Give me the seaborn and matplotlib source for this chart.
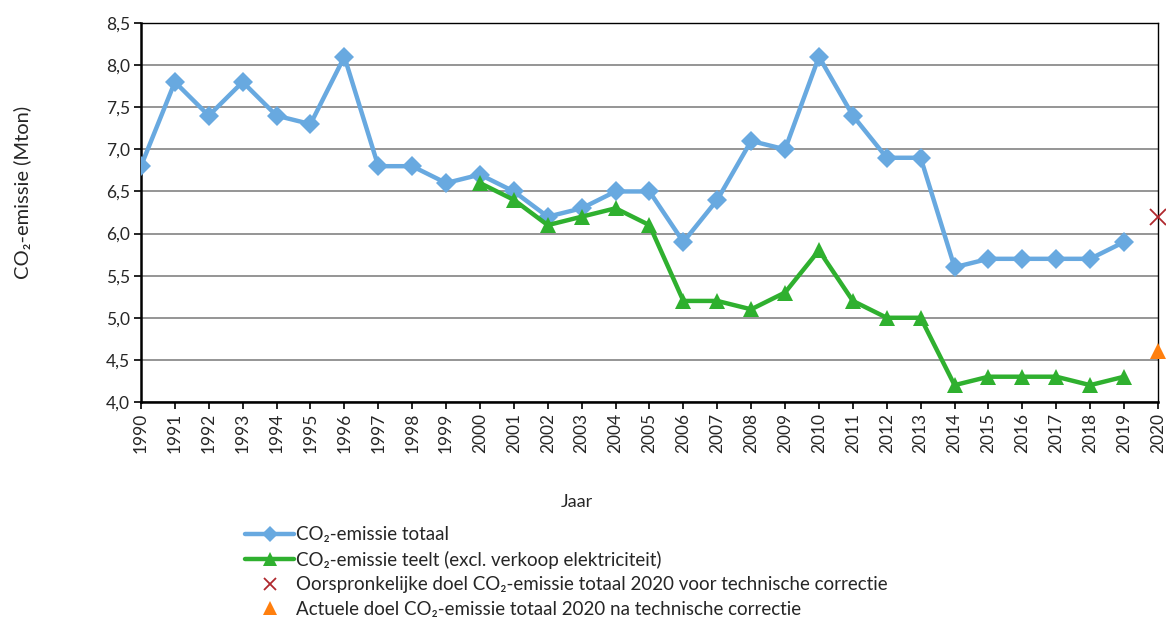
import numpy as np
import pandas as pd
import seaborn as sns
import matplotlib.pyplot as plt
from matplotlib.ticker import FuncFormatter, MultipleLocator

# Data
jaren_totaal = list(range(1990, 2020))
co2_totaal = [6.8, 7.8, 7.4, 7.8, 7.4, 7.3, 8.1, 6.8, 6.8, 6.6,
              6.7, 6.5, 6.2, 6.3, 6.5, 6.5, 5.9, 6.4, 7.1, 7.0,
              8.1, 7.4, 6.9, 6.9, 5.6, 5.7, 5.7, 5.7, 5.7, 5.9]
jaren_teelt = list(range(2000, 2020))
co2_teelt = [6.6, 6.4, 6.1, 6.2, 6.3, 6.1, 5.2, 5.2, 5.1, 5.3,
             5.8, 5.2, 5.0, 5.0, 4.2, 4.3, 4.3, 4.3, 4.2, 4.3]
doel_jaar = 2020
doel_oorspronkelijk = 6.2
doel_actueel = 4.6

lbl_totaal = "CO\u2082-emissie totaal"
lbl_teelt = "CO\u2082-emissie teelt (excl. verkoop elektriciteit)"
lbl_oorspr = "Oorspronkelijke doel CO\u2082-emissie totaal 2020 voor technische correctie"
lbl_actueel = "Actuele doel CO\u2082-emissie totaal 2020 na technische correctie"

sns.set_style("white")
plt.rcParams['font.family'] = ['Lato', 'DejaVu Sans']

df_totaal = pd.DataFrame({"jaar": jaren_totaal, "co2": co2_totaal})
df_teelt = pd.DataFrame({"jaar": jaren_teelt, "co2": co2_teelt})

fig = plt.figure(figsize=(11.66, 6.19), dpi=100)
ax = fig.add_axes([0.1209, 0.3506, 0.8722, 0.6122])

sns.lineplot(data=df_totaal, x="jaar", y="co2", ax=ax, color="#68a9e0",
             linewidth=3.2, marker="D", markersize=10, markeredgewidth=0,
             label=lbl_totaal, zorder=3)
sns.lineplot(data=df_teelt, x="jaar", y="co2", ax=ax, color="#2fb02f",
             linewidth=3.2, marker="^", markersize=12, markeredgewidth=0,
             label=lbl_teelt, zorder=3)
ax.plot([doel_jaar], [doel_oorspronkelijk], linestyle="none", marker="x",
        markersize=11, markeredgewidth=1.3, color="#b0282e",
        label=lbl_oorspr, clip_on=False, zorder=4)
ax.plot([doel_jaar], [doel_actueel], linestyle="none", marker="^",
        markersize=12, markeredgewidth=0, color="#ff7f0e",
        label=lbl_actueel, clip_on=False, zorder=4)

ax.set_xlim(1990, 2020)
ax.set_ylim(4.0, 8.5)
ax.set_xticks(range(1990, 2021))
ax.set_xticklabels([str(j) for j in range(1990, 2021)], rotation=90)
ax.yaxis.set_major_locator(MultipleLocator(0.5))
ax.yaxis.set_major_formatter(FuncFormatter(lambda v, p: f"{v:.1f}".replace(".", ",")))
ax.grid(axis="y", color="#8c8c8c", linewidth=1.3)
ax.set_axisbelow(True)

for s in ax.spines.values():
    s.set_color("black")
    s.set_linewidth(1.0)
ax.spines["left"].set_linewidth(1.8)
ax.spines["bottom"].set_linewidth(1.8)
ax.tick_params(axis="both", direction="out", length=5, width=1.2,
               color="black", labelsize=12.5, pad=3,
               bottom=True, left=True)

ax.set_xlabel("Jaar", fontsize=13)
ax.set_ylabel("CO\u2082-emissie (Mton)", fontsize=14.5)
ax.xaxis.set_label_coords(0.429, -0.243)
ax.yaxis.set_label_coords(-0.108, 0.554)

ax.legend(loc="upper left", bbox_to_anchor=(0.204, 0.162),
          bbox_transform=fig.transFigure, frameon=False, fontsize=13.5,
          handlelength=2.6, handletextpad=0.1, labelspacing=0.4,
          borderaxespad=0, markerscale=0.85)

fig.savefig("out.png", dpi=100)
